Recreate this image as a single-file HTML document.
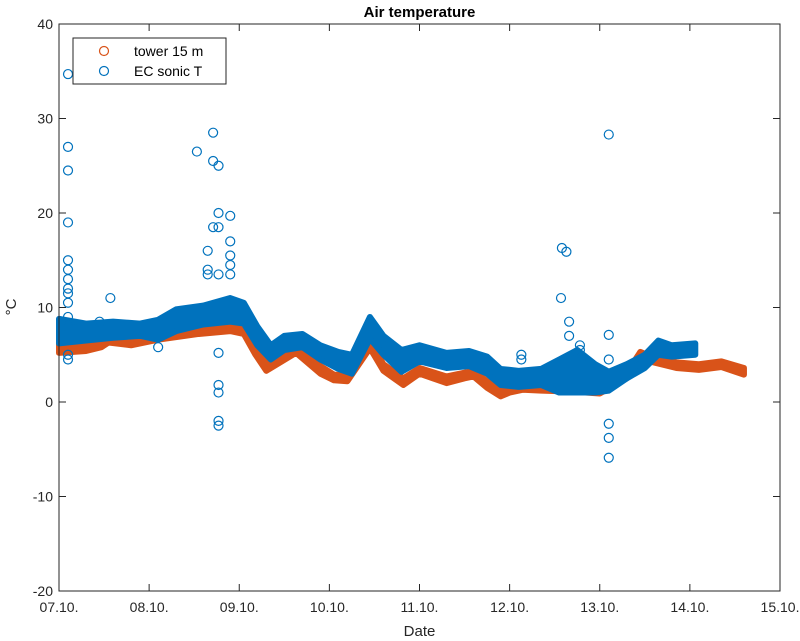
<!DOCTYPE html>
<html><head><meta charset="utf-8"><style>
html,body{margin:0;padding:0;background:#fff;}
svg{display:block;font-family:"Liberation Sans",sans-serif;}
</style></head><body>
<svg id="chart" width="800" height="641" viewBox="0 0 800 641" xmlns="http://www.w3.org/2000/svg">
<rect width="800" height="641" fill="#fff"/>
<g id="plot"></g>
<g id="axes"></g>
</svg>
<script>
const xTickLabels = ["07.10.","08.10.","09.10.","10.10.","11.10.","12.10.","13.10.","14.10.","15.10."];
const yTicks = [-20,-10,0,10,20,30,40];
// tower 15 m: days since 07.10. 00:00, low/high of scatter band (°C)
const towerDays = [0,0.3,0.47,0.55,0.8,1.1,1.55,1.9,2.05,2.18,2.3,2.63,2.9,3.05,3.2,3.45,3.6,3.82,4.0,4.3,4.5,4.6,4.75,4.9,5.0,5.15,5.35,5.7,6.0,6.3,6.45,6.55,6.85,7.1,7.35,7.6];
const towerLow  = [5.2,5.4,5.8,6.3,6.0,6.6,7.2,7.5,7.2,5.0,3.3,5.2,3.0,2.3,2.2,5.7,3.3,1.8,3.0,2.0,2.5,2.7,1.5,0.6,1.0,1.3,1.2,1.1,0.9,2.5,4.7,4.3,3.6,3.4,3.7,2.9];
const towerHigh = [6.2,6.2,7.0,7.8,7.0,7.6,8.0,8.5,8.2,6.5,4.2,6.2,3.8,2.9,2.8,6.5,4.0,2.5,3.6,2.7,3.1,3.3,2.2,1.2,1.6,1.9,1.8,1.7,1.5,3.1,5.3,4.9,4.2,4.0,4.3,3.6];
// EC sonic T: low/high of scatter band
const sonicDays = [0,0.3,0.6,0.9,1.1,1.3,1.6,1.9,2.05,2.2,2.35,2.5,2.7,2.9,3.1,3.25,3.45,3.6,3.8,4.0,4.3,4.55,4.75,4.9,5.1,5.35,5.55,5.75,5.95,6.1,6.3,6.5,6.65,6.8,7.06];
const sonicLow  = [6.2,6.5,6.8,7.0,6.6,7.5,8.2,8.5,8.3,6.0,4.5,5.5,5.8,4.5,3.5,3.0,6.7,5.0,3.2,4.3,3.6,3.8,3.0,1.8,1.6,1.8,1.0,1.0,1.0,1.2,2.5,3.6,5.0,4.8,5.0];
const sonicHigh = [8.8,8.3,8.5,8.3,8.7,9.8,10.2,11.0,10.5,8.0,6.0,7.0,7.2,6.0,5.3,5.0,9.0,7.0,5.5,6.0,5.2,5.4,4.8,3.5,3.3,3.5,4.5,5.5,4.0,3.2,4.0,5.0,6.5,6.0,6.2];
// sonic outliers
const outDays = [0.1,0.1,0.1,0.1,0.1,0.1,0.1,0.1,0.1,0.1,0.1,0.1,0.1,0.1,0.57,0.45,1.1,1.53,1.65,1.65,1.65,1.71,1.71,1.71,1.77,1.77,1.77,1.77,1.9,1.9,1.9,1.9,1.9,1.77,1.77,1.77,1.77,1.77,5.13,5.13,5.57,5.58,5.63,5.66,5.66,5.78,5.78,6.1,6.1,6.1,6.1,6.1,6.1];
const outTemp = [34.7,27,24.5,19,15,14,13,12,11.5,10.5,9,8,5,4.5,11,8.5,5.8,26.5,16,14,13.5,18.5,28.5,25.5,25,20,18.5,13.5,19.7,17,15.5,14.5,13.5,5.2,1.8,1,-2,-2.5,5,4.5,11,16.3,15.9,8.5,7,6,5.5,28.3,7.1,4.5,-2.3,-3.8,-5.9];

const L=59,R=780,T=24,B=591;
const xs=d=>L+d*(R-L)/8;
const ys=v=>B-(v+20)*(B-T)/60;
const NS="http://www.w3.org/2000/svg";
const plot=document.getElementById('plot'), axes=document.getElementById('axes');
function mk(tag,attrs,parent){const e=document.createElementNS(NS,tag);for(const k in attrs)e.setAttribute(k,attrs[k]);parent.appendChild(e);return e;}

function band(days,low,high,color,name){
  const pts=days.map((d,i)=>xs(d)+','+ys(high[i])).concat(days.map((d,i)=>xs(d)+','+ys(low[i])).reverse());
  const p=mk('polygon',{points:pts.join(' '),fill:color,stroke:color,'stroke-width':6,'stroke-linejoin':'round'},plot);
  
  
}
band(towerDays,towerLow,towerHigh,'#D95319','tower');
band(sonicDays,sonicLow,sonicHigh,'#0072BD','sonic');
outDays.forEach((d,i)=>{
  const c=mk('circle',{cx:xs(d),cy:ys(outTemp[i]),r:4.5,fill:'none',stroke:'#0072BD','stroke-width':1.2},plot);
  
  
});

const box=mk('rect',{x:L,y:T,width:R-L,height:B-T,fill:'none',stroke:'#262626','stroke-width':1},axes);


xTickLabels.forEach((lab,i)=>{
  const x=xs(i);
  mk('line',{x1:x,x2:x,y1:B,y2:B-7,stroke:'#262626'},axes);
  mk('line',{x1:x,x2:x,y1:T,y2:T+7,stroke:'#262626'},axes);
  const t=mk('text',{x:x,y:B+21,'text-anchor':'middle','font-size':14,fill:'#262626'},axes);
  t.textContent=lab;
  
  
});
yTicks.forEach(v=>{
  const y=ys(v);
  mk('line',{x1:L,x2:L+7,y1:y,y2:y,stroke:'#262626'},axes);
  mk('line',{x1:R,x2:R-7,y1:y,y2:y,stroke:'#262626'},axes);
  const t=mk('text',{x:L-6,y:y+5,'text-anchor':'end','font-size':14,fill:'#262626'},axes);
  t.textContent=v;
  
  
});
const title=mk('text',{x:(L+R)/2,y:17,'text-anchor':'middle','font-size':15,'font-weight':'bold',fill:'#000'},axes);
title.textContent='Air temperature';


const xl=mk('text',{x:(L+R)/2,y:636,'text-anchor':'middle','font-size':15,fill:'#262626'},axes);
xl.textContent='Date';


const yl=mk('text',{x:0,y:0,'text-anchor':'middle','font-size':15,fill:'#262626',transform:'translate(16,307) rotate(-90)'},axes);
yl.textContent='°C';



const lg=mk('g',{},axes);


mk('rect',{x:73,y:38,width:153,height:46,fill:'#fff',stroke:'#262626','stroke-width':1},lg);
[['tower 15 m','#D95319',51],['EC sonic T','#0072BD',71]].forEach(([lab,col,y])=>{
  const c=mk('circle',{cx:104,cy:y,r:4.5,fill:'none',stroke:col,'stroke-width':1.2},lg);
  
  
  const t=mk('text',{x:134,y:y+5,'font-size':14,fill:'#000'},lg);
  t.textContent=lab;
  
  
});
</script>
</body></html>
